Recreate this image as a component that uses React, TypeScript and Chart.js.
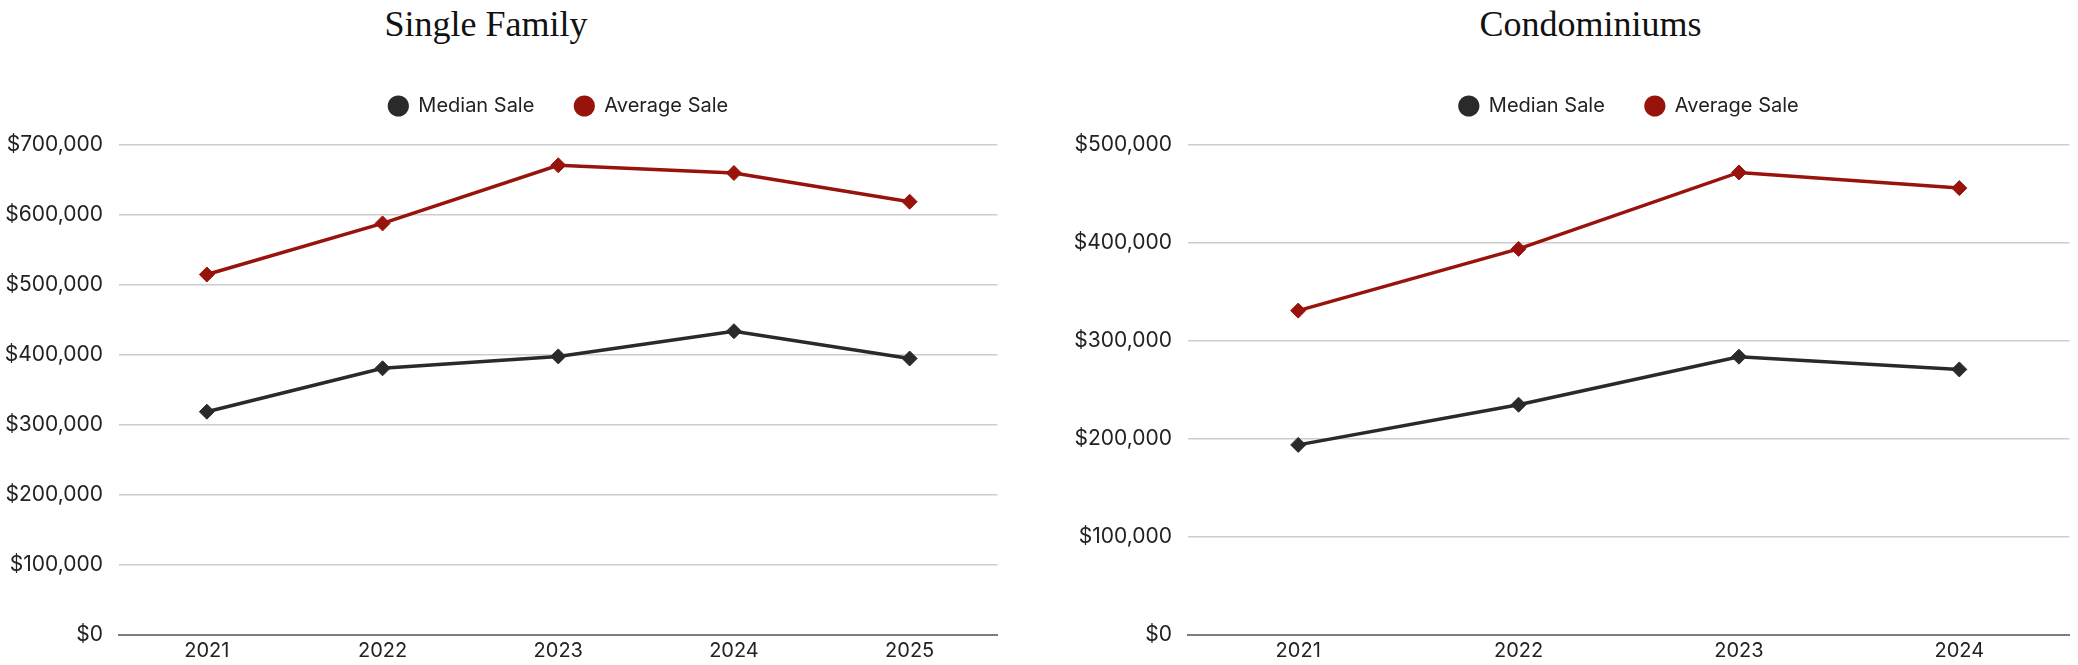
import React, { useEffect, useRef } from "react";
import { Chart, registerables } from "chart.js";

Chart.register(...registerables);

const seriesNames = ["Median Sale", "Average Sale"];
const sfYears = ["2021", "2022", "2023", "2024", "2025"];
const sfMedian = [319000, 381000, 398000, 434000, 395000];
const sfAverage = [515000, 588000, 671000, 660000, 619000];
const condoYears = ["2021", "2022", "2023", "2024"];
const condoMedian = [194000, 235000, 284000, 271000];
const condoAverage = [331000, 394000, 472000, 456000];
const sfMax = 700000;
const condoMax = 500000;
const yStep = 100000;

const DARK = "#2a2a2a";
const RED = "#97130b";
const FONT = "Inter, 'Noto Sans', sans-serif";

const legendGap = {
  id: "legendGap",
  beforeInit(chart: any) {
    const lg = chart.legend;
    if (!lg) return;
    const orig = lg.fit;
    lg.fit = function () {
      orig.call(lg);
      lg.height += 19;
    };
  },
};

function makeConfig(labels: string[], median: number[], average: number[], max: number, axisWidth: number): any {
  const ds = (label: string, data: number[], color: string) => ({
    label,
    data,
    borderColor: color,
    backgroundColor: color,
    borderWidth: 3.5,
    pointStyle: "rectRot",
    pointRadius: 7.5,
    pointBorderWidth: 1,
    pointBackgroundColor: color,
    pointBorderColor: color,
    tension: 0,
    fill: false,
  });
  return {
    type: "line",
    data: {
      labels,
      datasets: [ds(seriesNames[0], median, DARK), ds(seriesNames[1], average, RED)],
    },
    options: {
      animation: false,
      responsive: true,
      maintainAspectRatio: false,
      layout: { padding: 0 },
      plugins: {
        title: { display: false },
        tooltip: { enabled: false },
        legend: {
          display: true,
          position: "top",
          align: "center",
          fullSize: false,
          labels: {
            usePointStyle: true,
            pointStyle: "circle",
            boxWidth: 20,
            boxHeight: 15,
            padding: 40,
            color: "#222",
            font: { family: FONT, size: 20 },
            generateLabels: (chart: any) =>
              chart.data.datasets.map((d: any, i: number) => ({
                text: d.label,
                fillStyle: d.borderColor,
                strokeStyle: d.borderColor,
                lineWidth: 0,
                pointStyle: "circle",
                hidden: false,
                datasetIndex: i,
                fontColor: "#222",
              })),
          },
        },
      },
      scales: {
        x: {
          offset: true,
          grid: { display: false, drawTicks: false },
          border: { display: true, color: "#7d7d7d", width: 2 },
          ticks: { color: "#222", font: { family: FONT, size: 20 }, padding: 4 },
        },
        y: {
          min: 0,
          max,
          afterFit: (scale: any) => {
            scale.width = axisWidth;
          },
          grid: { color: "#cdcdcd", lineWidth: 1.5, drawTicks: false },
          border: { display: false },
          ticks: {
            stepSize: yStep,
            padding: 16,
            color: "#222",
            font: { family: FONT, size: 21 },
            callback: (v: any) => "$" + Number(v).toLocaleString("en-US"),
          },
        },
      },
    },
    plugins: [legendGap],
  };
}

function LineChart(props: { labels: string[]; median: number[]; average: number[]; max: number; axisWidth: number; style: React.CSSProperties }) {
  const ref = useRef<HTMLCanvasElement | null>(null);
  useEffect(() => {
    if (!ref.current) return;
    const chart = new Chart(ref.current, makeConfig(props.labels, props.median, props.average, props.max, props.axisWidth));
    return () => chart.destroy();
  }, []);
  return (
    <div style={{ position: "absolute", ...props.style }}>
      <canvas ref={ref} />
    </div>
  );
}

const titleStyle: React.CSSProperties = {
  position: "absolute",
  top: 6,
  fontFamily: "'Liberation Serif', 'DejaVu Serif', serif",
  fontSize: 36,
  lineHeight: "36px",
  color: "#111",
  textAlign: "center",
  whiteSpace: "nowrap",
};

export default function App() {
  return (
    <div style={{ position: "absolute", left: 0, top: 0, width: 2078, height: 665, overflow: "hidden", background: "#fff" }}>
      <div style={{ ...titleStyle, left: 0, width: 972 }}>Single Family</div>
      <div style={{ ...titleStyle, left: 1110, width: 961 }}>Condominiums</div>
      <LineChart labels={sfYears} median={sfMedian} average={sfAverage} max={sfMax} axisWidth={119} style={{ left: 0, top: 56, width: 1006, height: 611 }} />
      <LineChart labels={condoYears} median={condoMedian} average={condoAverage} max={condoMax} axisWidth={130} style={{ left: 1058, top: 56, width: 1020, height: 611 }} />
    </div>
  );
}
